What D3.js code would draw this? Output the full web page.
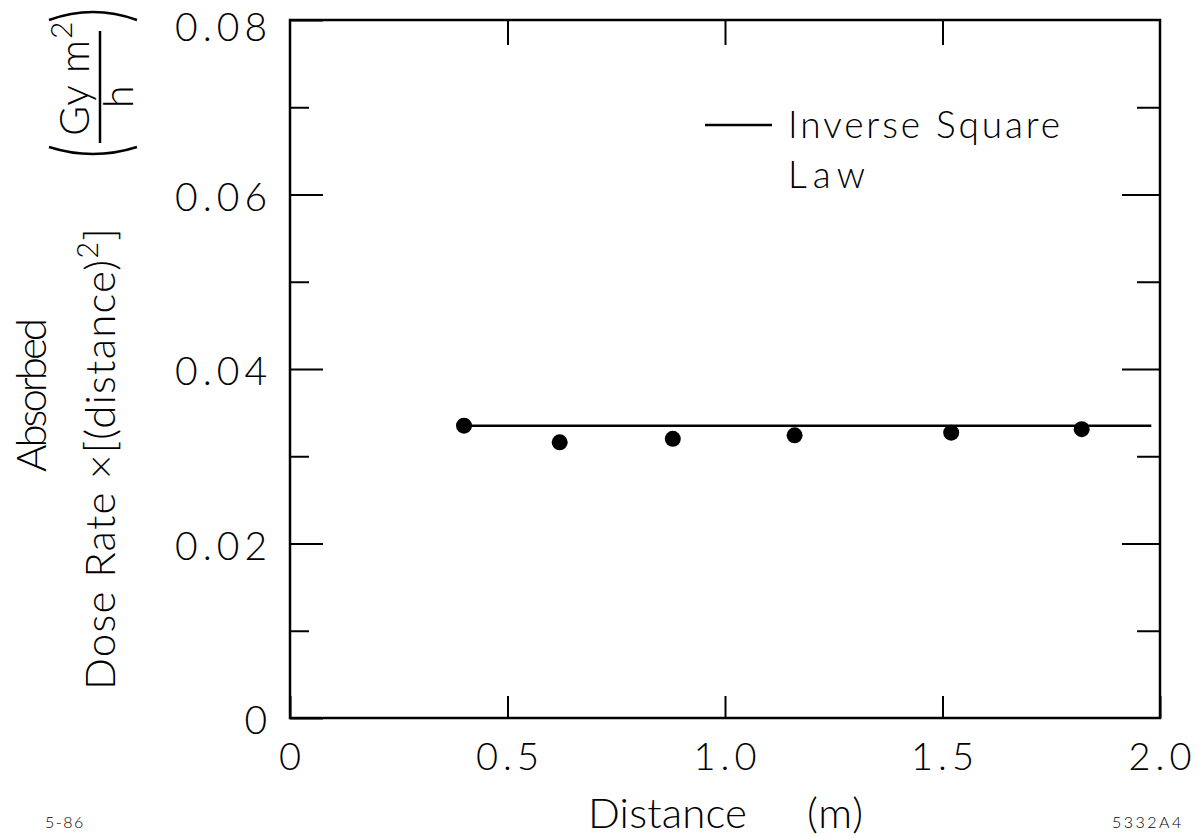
<!DOCTYPE html>
<html>
<head>
<meta charset="utf-8">
<script src="https://cdn.jsdelivr.net/npm/d3@7"></script>
<style>
  body { margin: 0; background: #fff; }
  svg { display: block; }
  text { font-family: Lato, "Liberation Sans", sans-serif; font-weight: 300; fill: #000; }
  .tick line { stroke: #000; stroke-width: 2; }
</style>
</head>
<body>
<script>
'use strict';

// measured points: distance (m) vs dose rate x distance^2 (Gy m^2 / h)
const distance = [0.40, 0.62, 0.88, 1.16, 1.52, 1.82];
const doseRate = [0.0335, 0.0316, 0.0320, 0.0324, 0.0327, 0.0331];

// inverse square law reference line
const lawDistance = [0.40, 1.98];
const lawValue = [0.0335, 0.0335];

// ticks
const xTicks = [0, 0.5, 1.0, 1.5, 2.0];
const xTickLabels = ["0", "0.5", "1.0", "1.5", "2.0"];
const yTicks = [0, 0.02, 0.04, 0.06, 0.08];
const yTickLabels = ["0", "0.02", "0.04", "0.06", "0.08"];
const yMinorTicks = [0.01, 0.03, 0.05, 0.07];

(function() {
  let width = 1202;
  let height = 839;
  let plot = {left: 290, right: 1160, top: 20, bottom: 718};

  let svg = d3.select('body')
    .append('svg')
      .attr('width', width)
      .attr('height', height);

  let xScale = d3.scaleLinear()
    .domain([0, 2])
    .range([plot.left, plot.right]);

  let yScale = d3.scaleLinear()
    .domain([0, 0.08])
    .range([plot.bottom, plot.top]);

  // ticks point inward on all four sides
  let bottomAxis = d3.axisBottom(xScale)
    .tickValues(xTicks)
    .tickSize(-22)
    .tickPadding(25)
    .tickFormat((d, i) => xTickLabels[i]);

  let gx = svg.append('g')
    .attr('transform', 'translate(0,' + plot.bottom + ')')
    .call(bottomAxis);
  gx.select('.domain').remove();
  gx.selectAll('text')
    .attr('font-size', 38)
    .attr('letter-spacing', 5)
    .attr('dx', 2)
    .attr('font-family', null);

  let topAxis = d3.axisTop(xScale)
    .tickValues(xTicks.slice(1, -1))
    .tickSize(-25)
    .tickFormat('');
  let gxt = svg.append('g')
    .attr('transform', 'translate(0,' + plot.top + ')')
    .call(topAxis);
  gxt.select('.domain').remove();

  let leftAxis = d3.axisLeft(yScale)
    .tickValues(yTicks)
    .tickSize(-33)
    .tickPadding(18)
    .tickFormat((d, i) => yTickLabels[i]);
  let gy = svg.append('g')
    .attr('transform', 'translate(' + plot.left + ',0)')
    .call(leftAxis);
  gy.select('.domain').remove();
  gy.selectAll('text')
    .attr('font-size', 39)
    .attr('letter-spacing', 5)
    .attr('dy', (d) => d === 0.08 ? '0.52em' : '0.4em')
    .attr('font-family', null);

  let leftMinor = d3.axisLeft(yScale)
    .tickValues(yMinorTicks)
    .tickSize(-19)
    .tickFormat('');
  let gym = svg.append('g')
    .attr('transform', 'translate(' + plot.left + ',0)')
    .call(leftMinor);
  gym.select('.domain').remove();

  let rightAxis = d3.axisRight(yScale)
    .tickValues(yTicks.slice(1, -1))
    .tickSize(-38)
    .tickFormat('');
  let gyr = svg.append('g')
    .attr('transform', 'translate(' + plot.right + ',0)')
    .call(rightAxis);
  gyr.select('.domain').remove();

  let rightMinor = d3.axisRight(yScale)
    .tickValues(yMinorTicks)
    .tickSize(-23)
    .tickFormat('');
  let gyrm = svg.append('g')
    .attr('transform', 'translate(' + plot.right + ',0)')
    .call(rightMinor);
  gyrm.select('.domain').remove();

  // frame
  svg.append('rect')
    .attr('x', plot.left)
    .attr('y', plot.top)
    .attr('width', plot.right - plot.left)
    .attr('height', plot.bottom - plot.top)
    .attr('fill', 'none')
    .attr('stroke', '#000')
    .attr('stroke-width', 2.5);

  // inverse square law line
  let lawData = lawDistance.map((d, i) => ({x: d, y: lawValue[i]}));
  let line = d3.line()
    .x((d) => xScale(d.x))
    .y((d) => yScale(d.y));

  svg.append('path')
    .datum(lawData)
    .attr('fill', 'none')
    .attr('stroke', '#000')
    .attr('stroke-width', 2.5)
    .attr('d', line);

  // measured points
  svg.selectAll('.dot')
    .data(distance.map((d, i) => ({x: d, y: doseRate[i]})))
    .enter()
    .append('circle')
      .attr('class', 'dot')
      .attr('cx', (d) => xScale(d.x))
      .attr('cy', (d) => yScale(d.y))
      .attr('r', 8)
      .attr('fill', '#000');

  // legend
  svg.append('line')
    .attr('x1', 705).attr('x2', 772)
    .attr('y1', 125).attr('y2', 125)
    .attr('stroke', '#000')
    .attr('stroke-width', 2.5);

  svg.append('text')
    .attr('x', 788).attr('y', 138)
    .attr('font-size', 37)
    .attr('textLength', 272)
    .attr('lengthAdjust', 'spacing')
    .text('Inverse Square');

  svg.append('text')
    .attr('x', 788).attr('y', 188)
    .attr('font-size', 37)
    .attr('textLength', 77)
    .attr('lengthAdjust', 'spacing')
    .text('Law');

  // x axis title
  svg.append('text')
    .attr('x', 588).attr('y', 828)
    .attr('font-size', 42)
    .attr('textLength', 159)
    .attr('lengthAdjust', 'spacing')
    .text('Distance');

  svg.append('text')
    .attr('x', 807).attr('y', 828)
    .attr('font-size', 42)
    .attr('textLength', 56)
    .attr('lengthAdjust', 'spacing')
    .text('(m)');

  // y axis title, two rotated lines
  svg.append('text')
    .attr('transform', 'translate(46,472)rotate(-90)')
    .attr('font-size', 42)
    .attr('textLength', 154)
    .attr('lengthAdjust', 'spacing')
    .text('Absorbed');

  let yTitle = svg.append('text')
    .attr('transform', 'translate(115,690)rotate(-90)')
    .attr('font-size', 42)
    .attr('letter-spacing', 1.2);
  yTitle.append('tspan').text('Dose Rate \u00d7[(distance)');
  yTitle.append('tspan')
    .attr('dy', -17)
    .attr('font-size', 29)
    .text('2');
  yTitle.append('tspan')
    .attr('dy', 17)
    .text(']');

  // units (Gy m^2 / h)
  let units = svg.append('g');

  let num = units.append('text')
    .attr('transform', 'translate(89,136)rotate(-90)')
    .attr('font-size', 41)
    .attr('letter-spacing', 1);
  num.append('tspan').text('Gy m');
  num.append('tspan')
    .attr('dy', -17)
    .attr('font-size', 30)
    .text('2');

  units.append('line')
    .attr('x1', 100).attr('x2', 100)
    .attr('y1', 31).attr('y2', 143)
    .attr('stroke', '#000')
    .attr('stroke-width', 2.5);

  units.append('text')
    .attr('transform', 'translate(133,108)rotate(-90)')
    .attr('font-size', 41)
    .text('h');

  units.append('path')
    .attr('d', 'M49,20 Q93,4 137,20')
    .attr('fill', 'none')
    .attr('stroke', '#000')
    .attr('stroke-width', 2.5);

  units.append('path')
    .attr('d', 'M49,147 Q93,161 137,147')
    .attr('fill', 'none')
    .attr('stroke', '#000')
    .attr('stroke-width', 2.5);

  // figure codes
  svg.append('text')
    .attr('x', 45).attr('y', 828)
    .attr('font-family', '"Liberation Sans", sans-serif')
    .attr('font-weight', 'bold')
    .attr('font-size', 16)
    .attr('letter-spacing', 1.5)
    .text('5-86');

  svg.append('text')
    .attr('x', 1112).attr('y', 828)
    .attr('font-family', '"Liberation Sans", sans-serif')
    .attr('font-weight', 'bold')
    .attr('font-size', 16)
    .attr('letter-spacing', 2.5)
    .text('5332A4');
})();
</script>
</body>
</html>
